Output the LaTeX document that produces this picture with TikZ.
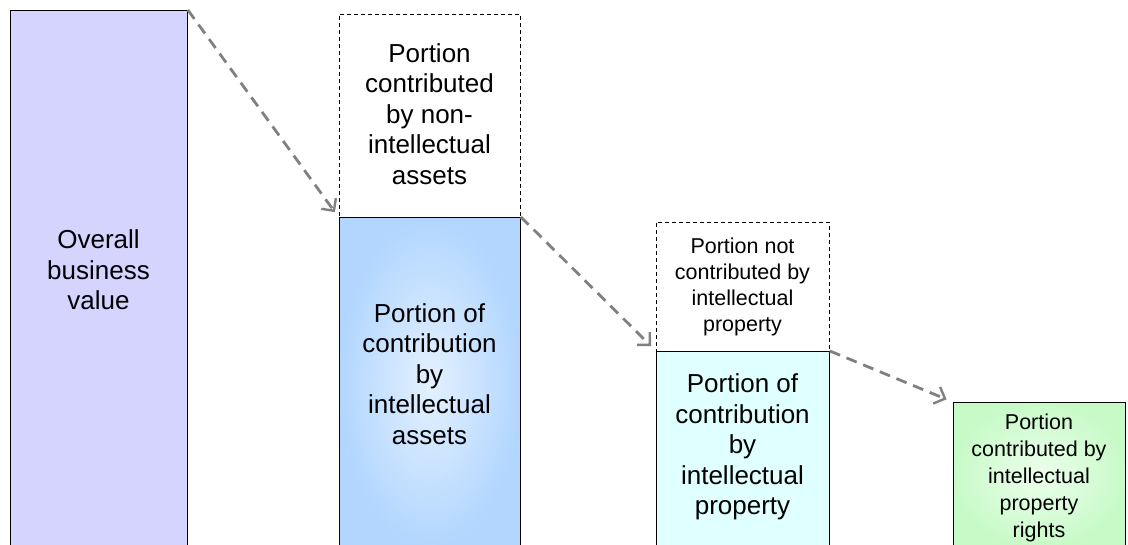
\documentclass[tikz,border=0pt]{standalone}
\usepackage{fontspec}
\setmainfont{Liberation Sans}
\usetikzlibrary{arrows.meta}
\definecolor{lav}{RGB}{212,212,255}
\definecolor{blueedge}{RGB}{178,214,255}
\definecolor{bluecenter}{RGB}{228,241,255}
\definecolor{lcyan}{RGB}{224,255,255}
\definecolor{greenedge}{RGB}{200,250,200}
\definecolor{greencenter}{RGB}{236,255,236}
\definecolor{arrgray}{RGB}{128,128,128}
\begin{document}
\begin{tikzpicture}[x=1pt,y=-1pt,
  bar/.style={rectangle, draw=black, line width=0.9pt, inner sep=0pt, anchor=north west},
  ghost/.style={rectangle, draw=black, line width=0.8pt, dash pattern=on 4pt off 3pt, inner sep=0pt, anchor=north west, fill=white},
  bigtxt/.style={align=center, font=\fontsize{26}{30.5}\selectfont, inner sep=0pt},
  smalltxt/.style={align=center, font=\fontsize{21.5}{25.8}\selectfont, inner sep=0pt},
  flow/.style={draw=arrgray, line width=2.8pt, dash pattern=on 11pt off 7pt, shorten >=7pt,
    -{Straight Barb[length=9pt,width=18pt,line width=2.4pt]}}
]
\useasboundingbox (0,0) rectangle (1128,544);

% Column 1
\node[bar, fill=lav, minimum width=177pt, minimum height=545pt] (b1) at (10,10) {};
\node[bigtxt] (t1) at (98.5,270) {Overall\\business\\value};

% Column 2
\node[ghost, minimum width=181pt, minimum height=203pt] (g2) at (339,14) {};
\node[bigtxt] (tg2) at (429.5,114) {Portion\\contributed\\by non-\\intellectual\\assets};
\node[bar, inner color=bluecenter, outer color=blueedge, minimum width=181pt, minimum height=330pt] (b2) at (339,217) {};
\node[bigtxt] (t2) at (429.5,374) {Portion of\\contribution\\by\\intellectual\\assets};

% Column 3
\node[bar, fill=lcyan, minimum width=173pt, minimum height=196pt] (b3) at (656,351) {};
\node[ghost, minimum width=173pt, minimum height=129pt] (g3) at (656,222) {};
\node[smalltxt] (tg3) at (742.5,287) {Portion not\\contributed by\\intellectual\\property};
\node[bigtxt] (t3) at (742.5,447) {Portion of\\contribution\\by\\intellectual\\property};

% Column 4
\node[bar, inner color=greencenter, outer color=greenedge, minimum width=172pt, minimum height=145pt] (b4) at (953,402) {};
\node[smalltxt, font=\fontsize{21.5}{26.8}\selectfont] (t4) at (1039,478) {Portion\\contributed by\\intellectual\\property\\rights};

% Connectors
\draw[flow] (b1.north east) -- (g2.south west);
\draw[flow] (b2.north east) -- (b3.north west);
\draw[flow] (b3.north east) -- (b4.north west);
\end{tikzpicture}
\end{document}
